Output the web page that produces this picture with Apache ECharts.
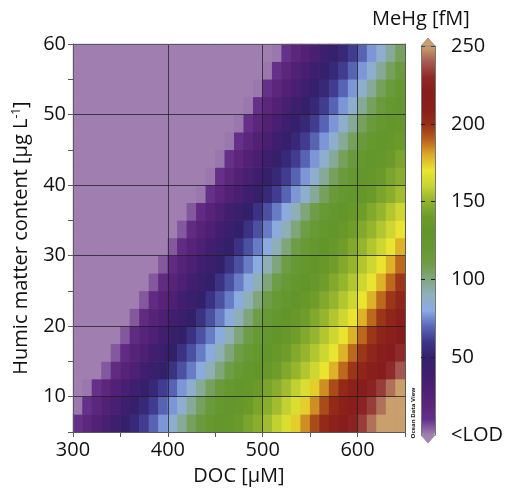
<!DOCTYPE html>
<html>
<head>
<meta charset="utf-8">
<script src="https://cdn.jsdelivr.net/npm/echarts@6/dist/echarts.min.js"></script>
<style>
  html, body { margin: 0; padding: 0; background: #fff; }
  #chart { width: 513px; height: 491px; }
</style>
</head>
<body>
<div id="chart"></div>
<script>
// DOC cell centres (µM) and humic matter cell centres (µg/L)
const docCats = [305, 315, 325, 335, 345, 355, 365, 375, 385, 395, 405, 415, 425, 435, 445, 455, 465, 475,
    485, 495, 505, 515, 525, 535, 545, 555, 565, 575, 585, 595, 605, 615, 625, 635, 645];
const humicCats = [6.25, 8.75, 11.25, 13.75, 16.25, 18.75, 21.25, 23.75, 26.25, 28.75, 31.25, 33.75,
    36.25, 38.75, 41.25, 43.75, 46.25, 48.75, 51.25, 53.75, 56.25, 58.75];

// MeHg (fM), one row per humic level (bottom row first), 0 = <LOD
const mehgRows = [
    [10,18,26,33,40,47,54,61,69,77,86,96,106,114,121,127,133,139,144,148,153,159,166,174,184,194,202,208,215,225,234,243,250,250,250],
    [1,10,18,26,33,40,47,54,61,69,77,86,96,106,114,121,127,133,139,144,148,153,159,166,174,184,194,202,208,215,225,234,243,250,250],
    [0,1,10,18,26,33,40,47,54,61,69,77,86,96,106,114,121,127,133,139,144,148,153,159,166,174,184,194,202,208,215,225,234,243,250],
    [0,0,0,5,14,22,29,37,44,50,58,65,73,82,91,101,110,118,124,130,136,141,146,151,156,162,170,179,189,198,205,212,220,230,239],
    [0,0,0,0,5,14,22,29,37,44,50,58,65,73,82,91,101,110,118,124,130,136,141,146,151,156,162,170,179,189,198,205,212,220,230],
    [0,0,0,0,0,5,14,22,29,37,44,50,58,65,73,82,91,101,110,118,124,130,136,141,146,151,156,162,170,179,189,198,205,212,220],
    [0,0,0,0,0,0,5,14,22,29,37,44,50,58,65,73,82,91,101,110,118,124,130,136,141,146,151,156,162,170,179,189,198,205,212],
    [0,0,0,0,0,0,0,5,14,22,29,37,44,50,58,65,73,82,91,101,110,118,124,130,136,141,146,151,156,162,170,179,189,198,205],
    [0,0,0,0,0,0,0,0,5,14,22,29,37,44,50,58,65,73,82,91,101,110,118,124,130,136,141,146,151,156,162,170,179,189,198],
    [0,0,0,0,0,0,0,0,0,5,14,22,29,37,44,50,58,65,73,82,91,101,110,118,124,130,136,141,146,151,156,162,170,179,189],
    [0,0,0,0,0,0,0,0,0,0,5,14,22,29,37,44,50,58,65,73,82,91,101,110,118,124,130,136,141,146,151,156,162,170,179],
    [0,0,0,0,0,0,0,0,0,0,0,5,14,22,29,37,44,50,58,65,73,82,91,101,110,118,124,130,136,141,146,151,156,162,170],
    [0,0,0,0,0,0,0,0,0,0,0,0,5,14,22,29,37,44,50,58,65,73,82,91,101,110,118,124,130,136,141,146,151,156,162],
    [0,0,0,0,0,0,0,0,0,0,0,0,0,1,10,18,26,33,40,47,54,61,69,77,86,96,106,114,121,127,133,139,144,148,153],
    [0,0,0,0,0,0,0,0,0,0,0,0,0,0,1,10,18,26,33,40,47,54,61,69,77,86,96,106,114,121,127,133,139,144,148],
    [0,0,0,0,0,0,0,0,0,0,0,0,0,0,0,1,10,18,26,33,40,47,54,61,69,77,86,96,106,114,121,127,133,139,144],
    [0,0,0,0,0,0,0,0,0,0,0,0,0,0,0,0,1,10,18,26,33,40,47,54,61,69,77,86,96,106,114,121,127,133,139],
    [0,0,0,0,0,0,0,0,0,0,0,0,0,0,0,0,0,1,10,18,26,33,40,47,54,61,69,77,86,96,106,114,121,127,133],
    [0,0,0,0,0,0,0,0,0,0,0,0,0,0,0,0,0,0,1,10,18,26,33,40,47,54,61,69,77,86,96,106,114,121,127],
    [0,0,0,0,0,0,0,0,0,0,0,0,0,0,0,0,0,0,0,1,10,18,26,33,40,47,54,61,69,77,86,96,106,114,121],
    [0,0,0,0,0,0,0,0,0,0,0,0,0,0,0,0,0,0,0,0,1,10,18,26,33,40,47,54,61,69,77,86,96,106,114],
    [0,0,0,0,0,0,0,0,0,0,0,0,0,0,0,0,0,0,0,0,0,1,10,18,26,33,40,47,54,61,69,77,86,96,106]
];

const docTicks = [300, 400, 500, 600];
const humicTicks = [10, 20, 30, 40, 50, 60];
const scaleTicks = [0, 50, 100, 150, 200, 250];
const scaleLabels = ['<LOD', '50', '100', '150', '200', '250'];

// ODV-like palette, one colour every 10 fM from 0 to 250
const palette = ['#a07fb0', '#65308a', '#5a2479', '#4c1f74', '#3e1e6e', '#33206a', '#3e378a', '#5a68b8',
    '#8aaae6', '#8fb0bc', '#82a680', '#6f9c46', '#659830', '#62952a', '#6c9a2a', '#90b22e', '#c8d432',
    '#e8e430', '#dcac26', '#b8601c', '#962c18', '#8a1e1a', '#861c1c', '#8e2a28', '#a65c52', '#c9a06c'];

const font = 'Open Sans';
const textColor = '#111';
const frameColor = '#5a5a5a';
const gridColor = 'rgba(30,30,30,0.75)';

const cells = [];
mehgRows.forEach((row, yi) => row.forEach((v, xi) => cells.push([xi, yi, v])));

const chart = echarts.init(document.getElementById('chart'), null, { renderer: 'canvas' });

chart.setOption({
    animation: false,
    backgroundColor: '#fff',
    textStyle: { fontFamily: font },
    title: {
        text: 'MeHg [fM]',
        left: 372,
        top: 9,
        padding: 0,
        textStyle: { fontFamily: font, fontSize: 20, fontWeight: 'normal', color: textColor }
    },
    grid: [
        // background in the <LOD colour hides hairline seams between heatmap cells
        { left: 73, top: 44, width: 332, height: 391, show: true, backgroundColor: palette[0], borderWidth: 0 },
        { left: 421, top: 46, width: 14, height: 389 }
    ],
    xAxis: [
        { type: 'category', gridIndex: 0, data: docCats, show: false, position: 'bottom' },
        {
            type: 'value', gridIndex: 0, min: 300, max: 650, interval: 50, position: 'bottom', z: 5,
            name: 'DOC [μM]', nameLocation: 'middle', nameGap: 34,
            nameTextStyle: { fontFamily: font, fontSize: 20, color: textColor },
            axisLine: { onZero: false, lineStyle: { color: frameColor } },
            axisTick: { length: 5, lineStyle: { color: frameColor } },
            axisLabel: {
                margin: 8, fontSize: 20, color: textColor, fontFamily: font,
                formatter: v => docTicks.includes(v) ? String(v) : ''
            },
            splitLine: {
                show: true,
                lineStyle: {
                    width: 1,
                    color: [gridColor, 'transparent', gridColor, 'transparent', gridColor, 'transparent', gridColor, frameColor]
                }
            }
        },
        {
            type: 'value', gridIndex: 0, min: 300, max: 650, position: 'top', z: 5,
            axisLine: { onZero: false, lineStyle: { color: frameColor } },
            axisTick: { show: false }, axisLabel: { show: false }, splitLine: { show: false }
        },
        { type: 'value', gridIndex: 1, show: false }
    ],
    yAxis: [
        { type: 'category', gridIndex: 0, data: humicCats, show: false, position: 'left' },
        {
            type: 'value', gridIndex: 0, min: 5, max: 60, interval: 5, position: 'left', z: 5,
            name: 'Humic matter content [μg L{sup|-1}]', nameLocation: 'middle', nameGap: 42,
            nameTextStyle: {
                fontFamily: font, fontSize: 20, color: textColor,
                rich: { sup: { fontFamily: font, fontSize: 12, verticalAlign: 'top', padding: [0, 0, 8, 0] } }
            },
            axisLine: { onZero: false, lineStyle: { color: frameColor } },
            axisTick: { length: 5, lineStyle: { color: frameColor } },
            axisLabel: {
                margin: 7, fontSize: 20, color: textColor, fontFamily: font,
                formatter: v => humicTicks.includes(v) ? String(v) : ''
            },
            splitLine: { show: true, lineStyle: { width: 1, color: ['transparent', gridColor] } }
        },
        {
            type: 'value', gridIndex: 0, min: 5, max: 60, position: 'right', z: 5,
            axisLine: { onZero: false, lineStyle: { color: frameColor } },
            axisTick: { show: false }, axisLabel: { show: false }, splitLine: { show: false }
        },
        {
            type: 'value', gridIndex: 1, min: 0, max: 250, interval: 50, position: 'right', z: 6,
            axisLine: { onZero: false, lineStyle: { color: '#777' } },
            axisTick: { inside: true, length: 4, lineStyle: { color: '#222' } },
            axisLabel: {
                margin: 16, fontSize: 20, color: textColor, fontFamily: font,
                formatter: v => scaleLabels[scaleTicks.indexOf(v)] || ''
            },
            splitLine: { show: false }
        },
        {
            type: 'value', gridIndex: 1, min: 0, max: 250, interval: 50, position: 'left', z: 6,
            axisLine: { onZero: false, lineStyle: { color: '#777' } },
            axisTick: { inside: true, length: 4, lineStyle: { color: '#222' } },
            axisLabel: { show: false },
            splitLine: { show: false }
        }
    ],
    visualMap: {
        type: 'continuous',
        min: 0,
        max: 250,
        seriesIndex: 0,
        calculable: false,
        hoverLink: false,
        orient: 'vertical',
        left: 421,
        top: 46,
        padding: 0,
        itemWidth: 14,
        itemHeight: 389,
        text: null,
        inRange: { color: palette }
    },
    series: [{
        type: 'heatmap',
        xAxisIndex: 0,
        yAxisIndex: 0,
        data: cells,
        emphasis: { disabled: true },
        itemStyle: { borderWidth: 0 }
    }],
    graphic: [
        {
            type: 'polygon', z: 10,
            shape: { points: [[421, 46], [428, 38], [435, 46]] },
            style: { fill: '#c9a06c', stroke: '#888', lineWidth: 0.8 }
        },
        {
            type: 'polygon', z: 10,
            shape: { points: [[421, 435], [428, 443], [435, 435]] },
            style: { fill: '#a580b8', stroke: '#888', lineWidth: 0.8 }
        },
        {
            type: 'text', z: 10, x: 413, y: 413, rotation: Math.PI / 2,
            style: {
                text: 'Ocean Data View', fill: '#222', font: 'bold 6px "Open Sans"',
                align: 'center', verticalAlign: 'middle'
            }
        }
    ]
});
</script>
</body>
</html>
